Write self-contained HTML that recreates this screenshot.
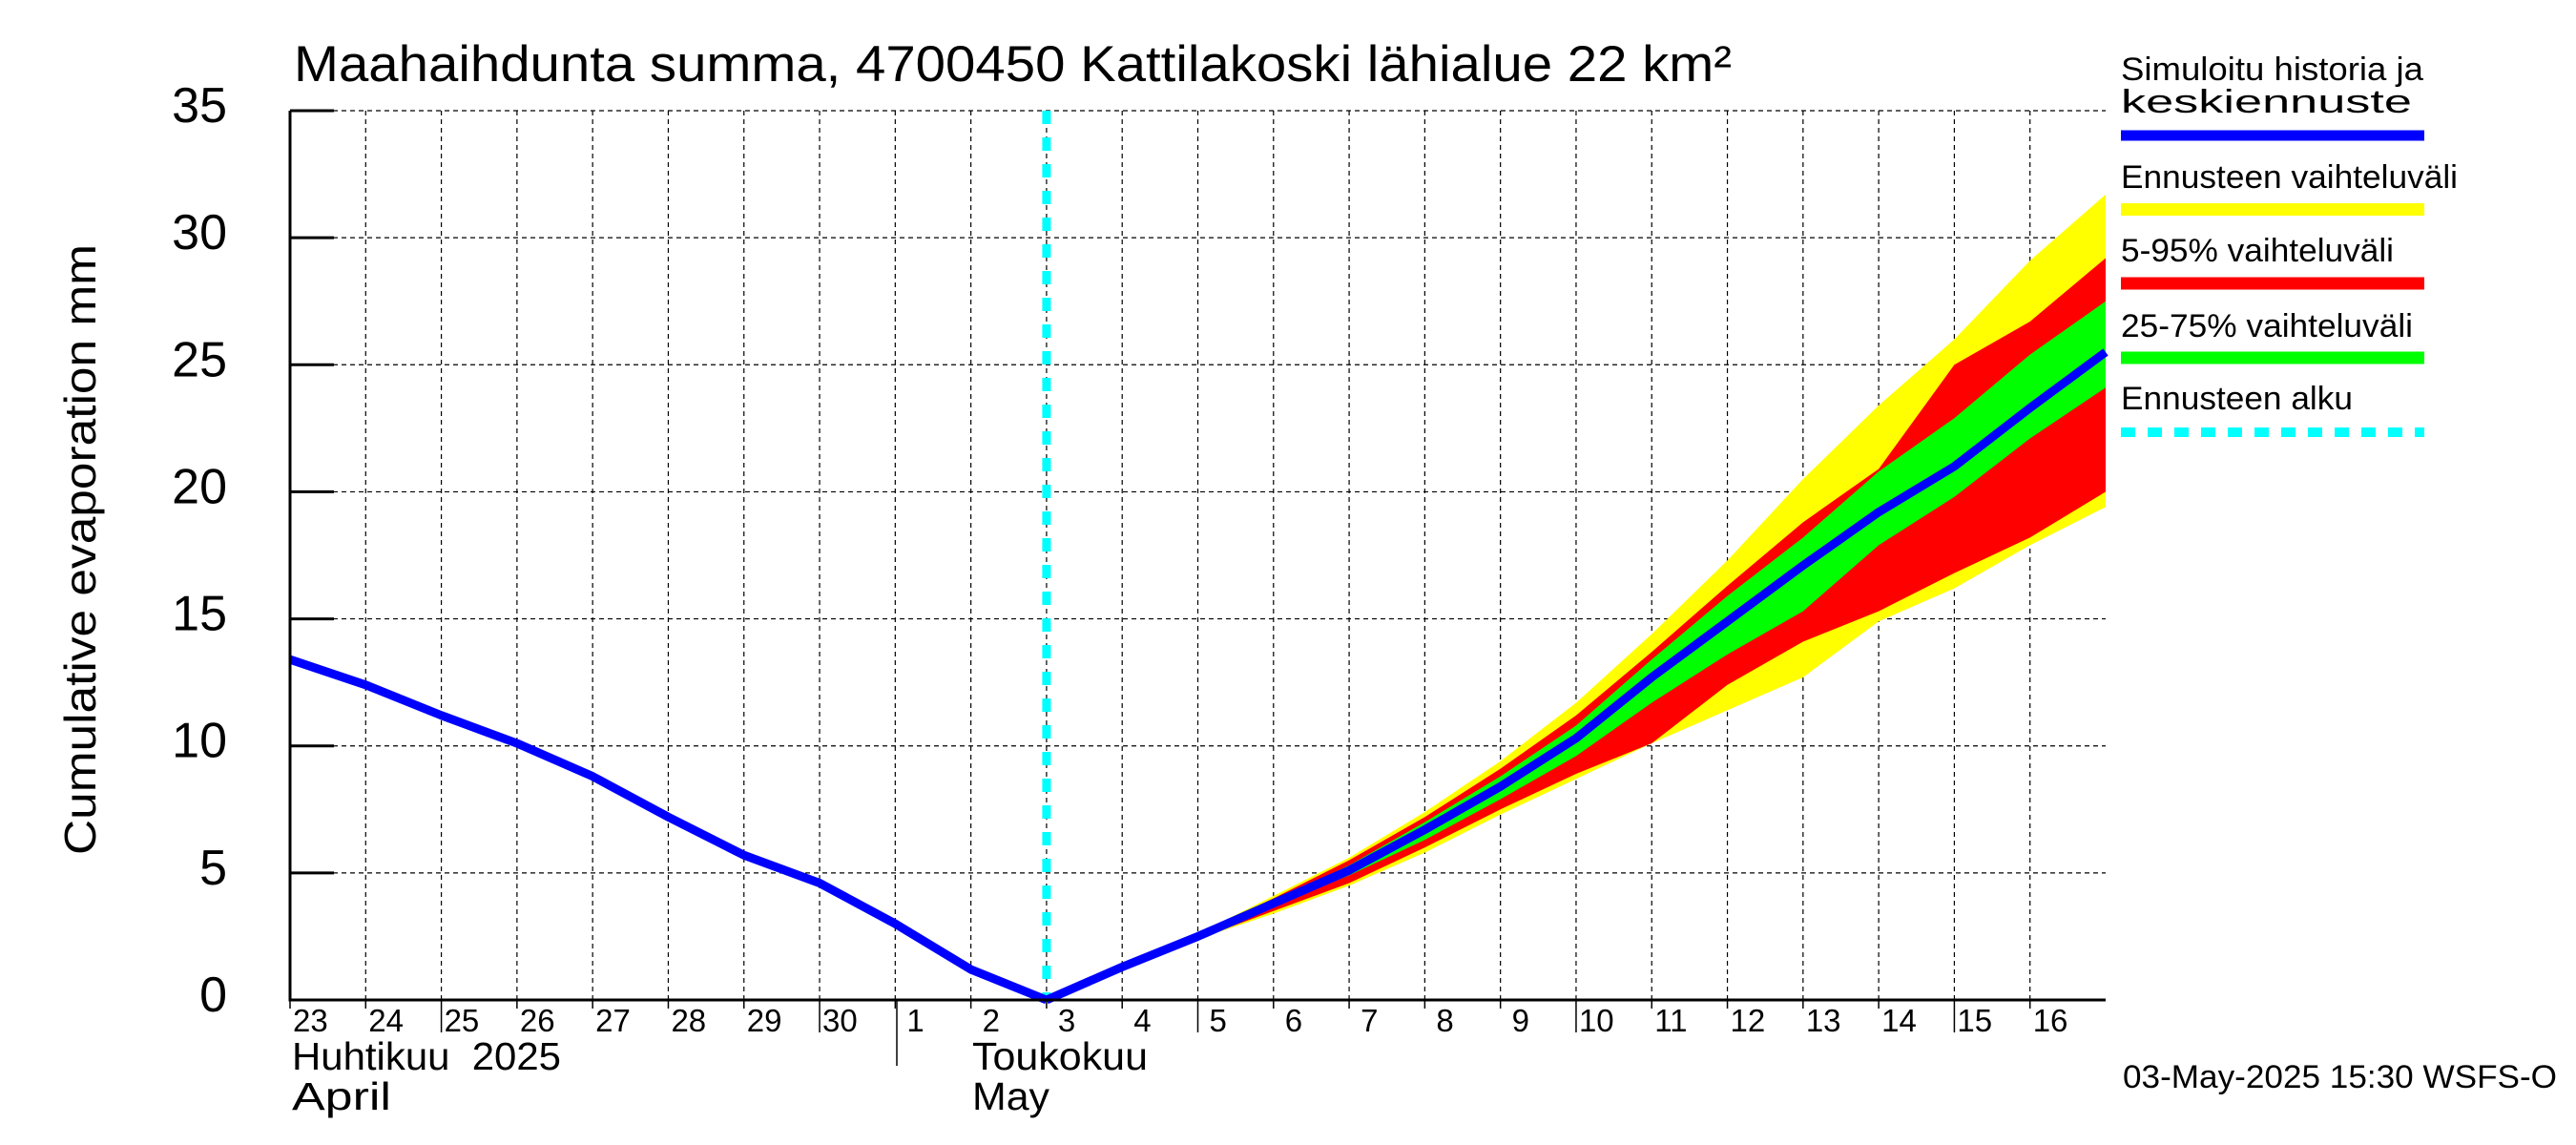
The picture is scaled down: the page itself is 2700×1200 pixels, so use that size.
<!DOCTYPE html>
<html><head><meta charset="utf-8"><style>
html,body{margin:0;padding:0;background:#fff}
svg{display:block}
text{font-family:"Liberation Sans",Arial,sans-serif;fill:#000}
</style></head><body>
<svg id="chart" xmlns="http://www.w3.org/2000/svg" width="2700" height="1200" viewBox="0 0 2700 1200">
<rect width="2700" height="1200" fill="#fff"/>
<g id="grid"></g>
<g id="bands"></g>
<g id="lines"></g>
<g id="axes"></g>
<text x="308" y="85" font-size="53" textLength="1507" lengthAdjust="spacingAndGlyphs">Maahaihdunta summa, 4700450 Kattilakoski lähialue 22 km²</text>
<text transform="translate(100,576) rotate(-90)" text-anchor="middle" font-size="46" textLength="640" lengthAdjust="spacingAndGlyphs">Cumulative evaporation   mm</text>
<text x="306" y="1121" font-size="41" textLength="282" lengthAdjust="spacingAndGlyphs" xml:space="preserve">Huhtikuu  2025</text>
<text x="306" y="1163" font-size="41" textLength="104" lengthAdjust="spacingAndGlyphs">April</text>
<text x="1019" y="1121" font-size="41" textLength="184" lengthAdjust="spacingAndGlyphs">Toukokuu</text>
<text x="1019" y="1163" font-size="41" textLength="81" lengthAdjust="spacingAndGlyphs">May</text>
<line x1="940" y1="1048" x2="940" y2="1117" stroke="#000" stroke-width="1.5"/>
<g>
<text x="2223" y="84" font-size="34" textLength="317" lengthAdjust="spacingAndGlyphs">Simuloitu historia ja</text>
<text x="2223" y="118" font-size="34" textLength="305" lengthAdjust="spacingAndGlyphs">keskiennuste</text>
<line x1="2223" y1="142" x2="2541" y2="142" stroke="#0000ff" stroke-width="11"/>
<text x="2223" y="197" font-size="34" textLength="353" lengthAdjust="spacingAndGlyphs">Ennusteen vaihteluväli</text>
<line x1="2223" y1="219.5" x2="2541" y2="219.5" stroke="#ffff00" stroke-width="13"/>
<text x="2223" y="274" font-size="34" textLength="286" lengthAdjust="spacingAndGlyphs">5-95% vaihteluväli</text>
<line x1="2223" y1="297" x2="2541" y2="297" stroke="#ff0000" stroke-width="13"/>
<text x="2223" y="353" font-size="34" textLength="306" lengthAdjust="spacingAndGlyphs">25-75% vaihteluväli</text>
<line x1="2223" y1="375" x2="2541" y2="375" stroke="#00ff00" stroke-width="13"/>
<text x="2223" y="429" font-size="34" textLength="243" lengthAdjust="spacingAndGlyphs">Ennusteen alku</text>
<line x1="2223" y1="453" x2="2541" y2="453" stroke="#00ffff" stroke-width="10" stroke-dasharray="15 13"/>
</g>
<text x="2225" y="1140" font-size="34" textLength="455" lengthAdjust="spacingAndGlyphs">03-May-2025 15:30 WSFS-O</text>
</svg>
<script>
const dayLabels = ["23","24","25","26","27","28","29","30","1","2","3","4","5","6","7","8","9","10","11","12","13","14","15","16"];
const yTicks = [0,5,10,15,20,25,30,35];
const historyIdx = [0,1,2,3,4,5,6,7,8,9,10];
const historyVals = [13.4,12.4,11.2,10.1,8.8,7.2,5.7,4.6,3.0,1.2,0];
const fcIdx = [10,11,12,13,14,15,16,17,18,19,20,21,22,23,24];
const median = [0,1.3,2.5,3.8,5.1,6.7,8.4,10.3,12.7,14.9,17.1,19.2,21.0,23.3,25.5];
const yellowHi = [0,1.3,2.6,4.1,5.6,7.4,9.4,11.7,14.4,17.3,20.5,23.4,26.0,29.1,31.7];
const yellowLo = [0,1.3,2.4,3.4,4.5,5.8,7.3,8.7,10.1,11.4,12.7,14.9,16.2,17.9,19.4];
const redHi = [0,1.3,2.6,4.0,5.5,7.2,9.1,11.2,13.7,16.3,18.8,20.9,25.0,26.7,29.2];
const redLo = [0,1.3,2.4,3.5,4.6,6.0,7.5,8.9,10.1,12.4,14.1,15.3,16.8,18.2,20.0];
const greenHi = [0,1.3,2.5,3.9,5.3,7.0,8.8,10.8,13.4,15.9,18.2,20.8,22.9,25.4,27.5];
const greenLo = [0,1.3,2.5,3.7,4.9,6.3,7.9,9.6,11.7,13.6,15.3,17.9,19.8,22.1,24.1];
const forecastStartIdx = 10;

const NS="http://www.w3.org/2000/svg";
const X0=304, X1=2207, Y0=1048, Y1=116, NDAYS=24, YMAX=35;
function xs(i){return X0+(X1-X0)*i/NDAYS;}
function ys(v){return Y0-(Y0-Y1)*v/YMAX;}
function mk(tag,attrs,parent){const e=document.createElementNS(NS,tag);for(const k in attrs)e.setAttribute(k,attrs[k]);parent.appendChild(e);return e;}
const grid=document.getElementById('grid'), bands=document.getElementById('bands'), lines=document.getElementById('lines'), axes=document.getElementById('axes');

for(let i=1;i<NDAYS;i++){
  const g=mk('line',{x1:xs(i),y1:Y1,x2:xs(i),y2:Y0,stroke:'#000','stroke-width':1.2,'stroke-dasharray':'5 4'},grid);
  
  
}
yTicks.forEach(v=>{
  if(v===0)return;
  const g=mk('line',{x1:X0,y1:ys(v),x2:X1,y2:ys(v),stroke:'#000','stroke-width':1.2,'stroke-dasharray':'5 4'},grid);
  
  
});

function band(hi,lo,color,name){
  let pts=[];
  fcIdx.forEach((d,k)=>pts.push(xs(d)+','+ys(hi[k])));
  for(let k=fcIdx.length-1;k>=0;k--)pts.push(xs(fcIdx[k])+','+ys(lo[k]));
  const p=mk('polygon',{points:pts.join(' '),fill:color},bands);
  
  
}
band(yellowHi,yellowLo,'#ffff00','band-range');
band(redHi,redLo,'#ff0000','band-5-95');
band(greenHi,greenLo,'#00ff00','band-25-75');

const cy=mk('line',{x1:xs(forecastStartIdx),y1:Y1,x2:xs(forecastStartIdx),y2:Y0,stroke:'#00ffff','stroke-width':9,'stroke-dasharray':'14 14'},lines);



const hp=historyIdx.map((d,k)=>xs(d)+','+ys(historyVals[k])).join(' ');
const h=mk('polyline',{points:hp,fill:'none',stroke:'#0000ff','stroke-width':9,'stroke-linejoin':'round'},lines);


const mp=fcIdx.map((d,k)=>xs(d)+','+ys(median[k])).join(' ');
const m=mk('polyline',{points:mp,fill:'none',stroke:'#0000ff','stroke-width':9,'stroke-linejoin':'round'},lines);



const ax=mk('path',{d:`M${X0} ${Y1} L${X0} ${Y0} L${X1} ${Y0}`,fill:'none',stroke:'#000','stroke-width':3},axes);


yTicks.forEach(v=>{
  const t=mk('line',{x1:X0,y1:ys(v),x2:X0+46,y2:ys(v),stroke:'#000','stroke-width':3},axes);
  
  
  const l=mk('text',{x:238,y:ys(v)+12,'text-anchor':'end','font-size':52},axes);
  l.textContent=String(v);
  
  
});
dayLabels.forEach((s,i)=>{
  const long=(i%5===2);
  const t=mk('line',{x1:xs(i),y1:Y0,x2:xs(i),y2:long?1082:1057,stroke:'#000','stroke-width':1.5},axes);
  
  
  const l=mk('text',{x:xs(i)+3+(s.length===1?9:0),y:1081,'font-size':33},axes);
  l.textContent=s;
  
  
});
</script>
</body></html>
